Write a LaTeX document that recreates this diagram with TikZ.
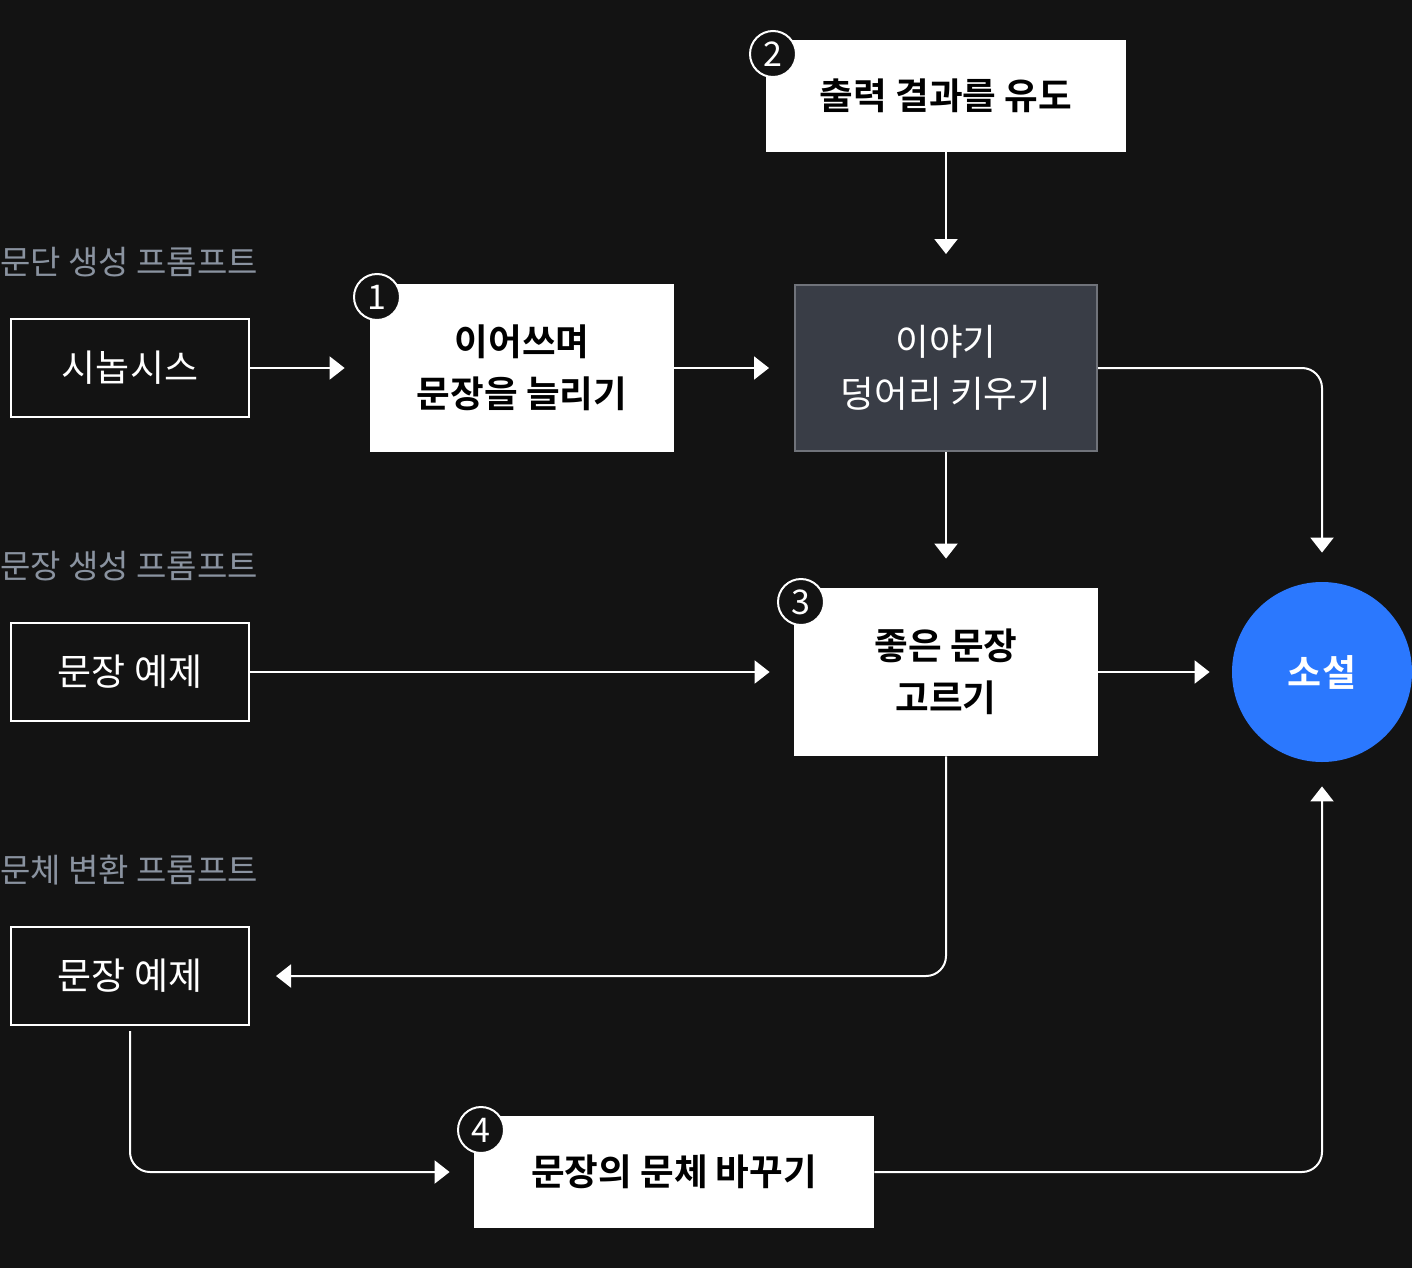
\documentclass[tikz,border=0pt]{standalone}
\usepackage{fontspec}
\setmainfont{Noto Sans CJK KR}[BoldFont={Noto Sans CJK KR Bold}]
\usetikzlibrary{arrows.meta}
\definecolor{bg}{HTML}{131313}
\definecolor{slate}{HTML}{393D46}
\definecolor{rim}{HTML}{70737A}
\definecolor{hint}{HTML}{8A93A0}
\definecolor{novelblue}{HTML}{2B78FE}
\tikzset{
  wbox/.style={fill=white, text=black, font=\fontsize{18.3}{26}\selectfont\bfseries, align=center, inner sep=0pt},
  obox/.style={draw=white, line width=1pt, text=white, font=\fontsize{18.5}{26}\selectfont, minimum width=119pt, minimum height=49pt, inner sep=0pt},
  num/.style={circle, draw=white, line width=1pt, fill=bg, text=white, minimum size=23pt, inner sep=0pt, font=\fontsize{17}{20}\selectfont},
  hintlabel/.style={anchor=west, text=hint, inner sep=0pt, font=\fontsize{16.5}{18}\selectfont},
  link/.style={draw=white, line width=1pt, ->}
}
\begin{document}
\begin{tikzpicture}[>={Triangle[length=7.5pt,width=11.5pt]}, rounded corners=0pt]

    \fill[bg] (0,0) rectangle (706pt,-634pt);
    \useasboundingbox (0,0) rectangle (706pt,-634pt);

    \node[hintlabel] (la) at (0pt,-131pt) {문단 생성 프롬프트};
    \node[hintlabel] (lb) at (0pt,-283pt) {문장 생성 프롬프트};
    \node[hintlabel] (lc) at (0pt,-435pt) {문체 변환 프롬프트};

    \node[obox] (syn) at (65pt,-184pt) {시놉시스};
    \node[obox] (ex) at (65pt,-336pt) {문장 예제};
    \node[obox] (ex2) at (65pt,-488pt) {문장 예제};

    \node[wbox, minimum width=180pt, minimum height=56pt] (guide) at (473pt,-48pt) {출력 결과를 유도};
    \node[wbox, minimum width=152pt, minimum height=84pt] (grow) at (261pt,-184pt) {이어쓰며\\문장을 늘리기};
    \node[fill=slate, draw=rim, line width=1pt, text=white, align=center, inner sep=0pt,
          font=\fontsize{18.3}{26}\selectfont, minimum width=151pt, minimum height=83pt] (lump) at (473pt,-184pt) {이야기\\덩어리 키우기};
    \node[wbox, minimum width=152pt, minimum height=84pt] (pick) at (473pt,-336pt) {좋은 문장\\고르기};
    \node[wbox, minimum width=200pt, minimum height=56pt] (restyle) at (337pt,-586pt) {문장의 문체 바꾸기};
    \node[circle, fill=novelblue, text=white, minimum size=90pt, inner sep=0pt,
          font=\fontsize{18.5}{20}\selectfont\bfseries] (novel) at (661pt,-336pt) {소설};

    \draw[link, shorten >=15pt] (guide.south) -- (lump.north);
    \draw[link, shorten >=12.5pt] (syn.east) -- (grow.west);
    \draw[link, shorten >=12.5pt] (grow.east) -- (lump.west);
    \draw[link, shorten >=14.5pt, rounded corners=10pt] (lump.east) -| (novel.north);
    \draw[link, shorten >=14.5pt] (lump.south) -- (pick.north);
    \draw[link, shorten >=12pt] (ex.east) -- (pick.west);
    \draw[link, shorten >=11pt] (pick.east) -- (novel.west);
    \draw[link, shorten >=13pt, rounded corners=10pt] (pick.south) |- (ex2.east);
    \draw[link, shorten <=2.5pt, shorten >=12pt, rounded corners=10pt] (ex2.south) |- (restyle.west);
    \draw[link, shorten >=12pt, rounded corners=10pt] (restyle.east) -| (novel.south);

    \node[num] (n1) at (188.5pt,-148.5pt) {1};
    \node[num] (n2) at (386.5pt,-27pt) {2};
    \node[num] (n3) at (400.5pt,-301pt) {3};
    \node[num] (n4) at (240.5pt,-565pt) {4};

  \end{tikzpicture}
\end{document}
